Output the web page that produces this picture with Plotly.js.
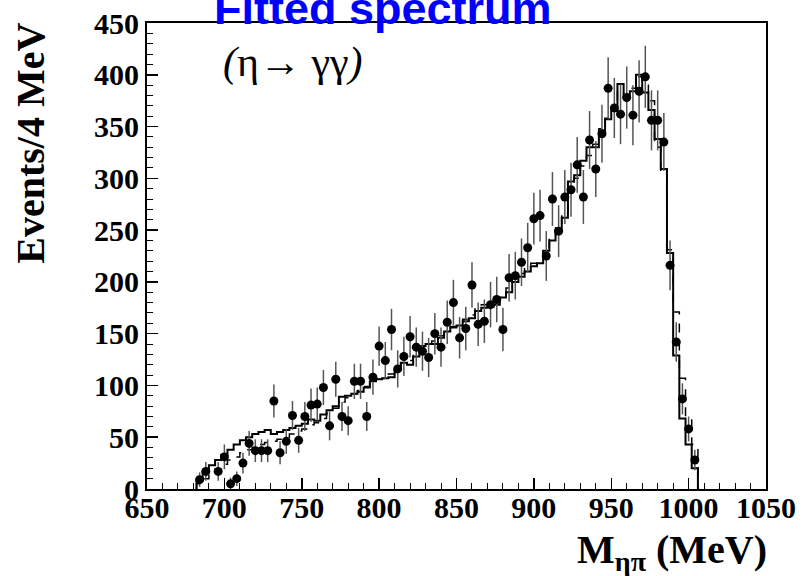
<!DOCTYPE html>
<html>
<head>
<meta charset="utf-8">
<script src="https://cdn.plot.ly/plotly-3.0.1.min.js"></script>
<style>html,body{margin:0;padding:0;background:#fff;}#chart{width:806px;height:576px;}</style>
</head>
<body>
<div id="chart"></div>
<script>
// Bin centres (MeV), 4 MeV bins
const binCenters = [684,688,692,696,700,704,708,712,716,720,724,728,732,736,740,744,748,752,756,760,
  764,768,772,776,780,784,788,792,796,800,804,808,812,816,820,824,828,832,836,840,
  844,848,852,856,860,864,868,872,876,880,884,888,892,896,900,904,908,912,916,920,
  924,928,932,936,940,944,948,952,956,960,964,968,972,976,980,984,988,992,996,1000,1004];
const binWidth = 4;

// Fit histogram (solid)
const fitSolid = [9,17,23,28,33,38,43,47,50,53,55,57,53,55,57,59,61,63,67,66,
  72,76,80,89,90,92,94,98,104,106,107,108,115,122,120,128,138,140,140,146,
  152,156,158,162,165,172,175,176,178,185,190,200,205,210,215,218,230,240,250,262,
  297,303,317,330,330,346,357,365,391,378,384,400,383,366,338,309,228,129,68,43,20];

// Alternative fit histogram (dashed)
const fitDashed = [5,10,15,19,24,28,31,35,38,40,43,45,46,48,50,53,56,58,62,64,
  68,73,78,84,88,92,95,99,103,106,108,111,117,122,124,130,137,140,143,148,
  153,157,160,164,168,174,178,180,182,188,194,203,208,213,218,222,234,245,255,266,
  290,300,312,322,333,348,358,368,385,380,387,398,390,375,330,306,231,171,107,69,43];

// Data points
const dataX = [684,688,696,700,704,708,712,716,720,724,728,732,736,740,744,748,752,756,760,
  764,768,772,776,780,784,788,792,796,800,804,808,812,816,820,824,828,832,836,840,
  844,848,852,856,860,864,868,872,876,880,884,888,892,896,900,904,908,912,916,920,
  924,928,932,936,940,944,948,952,956,960,964,968,972,976,980,984,988,992,996,1000,1004];
const dataY = [9,17,17,31,5,10,25,44,37,37,37,85,35,46,71,47,70,81,82,
  98,61,106,70,66,104,104,70,108,138,124,154,116,128,147,137,133,127,150,137,
  161,180,146,155,197,159,162,178,183,154,204,206,219,233,261,264,225,280,249,282,
  289,313,282,337,309,343,387,368,362,378,361,384,398,356,356,335,216,142,87,58,28];
const dataErr = [7,9,9,12,6,7,10,12,11,11,11,16,11,12,14,12,14,16,16,
  17,14,17,14,14,17,17,14,17,19,18,20,18,19,20,19,19,19,20,19,
  21,22,20,21,22,21,21,22,22,21,23,23,23,24,25,25,24,26,25,26,
  26,27,26,28,27,28,30,29,29,30,29,30,30,29,29,28,24,19,15,12,10];

const xTickVals = [650,700,750,800,850,900,950,1000,1050];
const xTickText = ['650','700','750','800','850','900','950','1000','1050'];

function stepTrace(vals, dash, width){
  const xs = [binCenters[0]-binWidth/2], ys = [0];
  for (let i=0;i<binCenters.length;i++){ xs.push(binCenters[i]-binWidth/2); ys.push(vals[i]); }
  const last = binCenters[binCenters.length-1]+binWidth/2;
  xs.push(last); ys.push(vals[vals.length-1]);
  xs.push(last); ys.push(0);
  return {x:xs, y:ys, mode:'lines', type:'scatter', line:{shape:'hv', color:'#000', width:width, dash:dash}, hoverinfo:'skip', showlegend:false};
}

const traces = [
  stepTrace(fitDashed, 'dash', 1.5),
  stepTrace(fitSolid, 'solid', 2),
  {x:dataX, y:dataY, mode:'markers', type:'scatter', showlegend:false,
   marker:{color:'#000', size:9},
   error_y:{type:'data', array:dataErr, visible:true, color:'#555', thickness:1.5, width:0}}
];

const serif = '"Liberation Serif", "DejaVu Serif", serif';
const tickFont = {family:serif, size:30, color:'#000', weight:'bold'};
const layout = {
  width:806, height:576,
  margin:{l:147, r:40, t:23, b:87},
  paper_bgcolor:'#fff', plot_bgcolor:'#fff',
  showlegend:false,
  title:{text:'<b>Fitted spectrum</b>', font:{family:'"Liberation Sans", Arial, sans-serif', size:45, color:'#0000ff'},
         x:0.475, xanchor:'center', y:0.986, yanchor:'middle', xref:'container', yref:'container'},
  xaxis:{range:[650,1050], tickvals:xTickVals, ticktext:xTickText, ticks:'inside', ticklen:11, tickwidth:1.5, tickcolor:'#000',
         minor:{dtick:10, ticks:'inside', ticklen:6, tickwidth:1, tickcolor:'#000'},
         showline:true, linecolor:'#000', linewidth:2, mirror:true, showgrid:false, zeroline:false,
         tickfont:tickFont, ticklabelstandoff:-9},
  yaxis:{range:[0,450], dtick:50, tick0:0, ticks:'inside', ticklen:11, tickwidth:1.5, tickcolor:'#000',
         minor:{dtick:10, ticks:'inside', ticklen:6, tickwidth:1, tickcolor:'#000'},
         showline:true, linecolor:'#000', linewidth:2, mirror:true, showgrid:false, zeroline:false,
         tickfont:tickFont},
  annotations:[
    {text:'<b>Events/4 MeV</b>', textangle:-90, xref:'paper', yref:'paper', x:-0.188, y:1.005, xanchor:'center', yanchor:'top',
     showarrow:false, font:{family:serif, size:40, color:'#000'}},
    {text:'<b>M<sub>ηπ</sub> (MeV)</b>', xref:'paper', yref:'paper', x:1.005, y:-0.135, xanchor:'right', yanchor:'middle',
     showarrow:false, font:{family:serif, size:40, color:'#000'}},
    {text:'<i>(</i>η→ γγ<i>)</i>', xref:'paper', yref:'paper', x:0.12, y:0.915, xanchor:'left', yanchor:'middle',
     showarrow:false, font:{family:serif, size:42, color:'#000'}}
  ]
};

Plotly.newPlot('chart', traces, layout, {displayModeBar:false, staticPlot:true});
</script>
</body>
</html>
